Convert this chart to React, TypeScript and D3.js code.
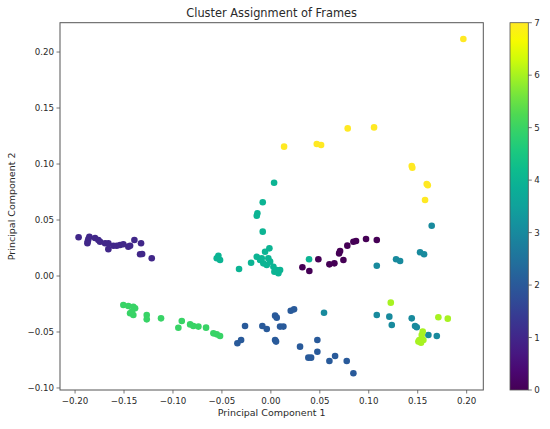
import React from "react";
import * as d3 from "d3";

// Cluster points: [PC1, PC2]
const cluster0: [number, number][] = [
  [0.0322, 0.0078], [0.0393, 0.0045], [0.0485, 0.0149], [0.0598, 0.0104], [0.0649, 0.0113],
  [0.0741, 0.0143], [0.0697, 0.0202], [0.0707, 0.0223], [0.0781, 0.0271], [0.0843, 0.0306],
  [0.087, 0.0313], [0.0972, 0.033], [0.1082, 0.0321],
];
const cluster1: [number, number][] = [
  [-0.1964, 0.0346], [-0.187, 0.031], [-0.1854, 0.0351], [-0.1864, 0.033], [-0.1874, 0.0292],
  [-0.1796, 0.034], [-0.1762, 0.0321], [-0.1745, 0.0306], [-0.1694, 0.0292], [-0.166, 0.024],
  [-0.166, 0.0292], [-0.1609, 0.027], [-0.1574, 0.027], [-0.154, 0.0277], [-0.1507, 0.0283],
  [-0.1456, 0.0262], [-0.1438, 0.027], [-0.1394, 0.0321], [-0.1326, 0.0292], [-0.1336, 0.0194],
  [-0.1315, 0.0196], [-0.1217, 0.0158],
];
const cluster2: [number, number][] = [
  [-0.0264, -0.0446], [-0.0342, -0.0601], [-0.0304, -0.0571], [-0.0087, -0.0446], [-0.0042, -0.0473],
  [0.0043, -0.0354], [0.006, -0.0372], [0.0094, -0.0452], [0.0128, -0.0452], [0.0043, -0.0571],
  [0.0053, -0.0586], [0.0203, -0.031], [0.0237, -0.0298], [0.0298, -0.0631], [0.0383, -0.0729],
  [0.0411, -0.0729], [0.0475, -0.0571], [0.0475, -0.0676], [0.0598, -0.0759], [0.0656, -0.0714],
  [0.0775, -0.0759], [0.0843, -0.0869],
];
const cluster3: [number, number][] = [
  [0.1643, 0.0449], [0.1524, 0.0212], [0.1565, 0.0194], [0.1279, 0.0149], [0.132, 0.0134],
  [0.1082, 0.0092], [0.0543, -0.0328], [0.1082, -0.0348], [0.121, -0.0363], [0.1235, -0.0438],
  [0.1439, -0.0378], [0.1473, -0.0446], [0.149, -0.0458], [0.1609, -0.0527], [0.1695, -0.0536],
];
const cluster4: [number, number][] = [
  [0.0033, 0.0833], [-0.0083, 0.0658], [-0.0138, 0.056], [-0.0144, 0.0538], [-0.0083, 0.0396],
  [-0.0536, 0.0181], [-0.0519, 0.0143], [-0.0553, 0.0158], [-0.0325, 0.0063], [-0.0202, 0.0119],
  [-0.0144, 0.0172], [-0.011, 0.0143], [-0.0059, 0.0217], [-0.0015, 0.0247], [-0.0077, 0.0113],
  [-0.0042, 0.0098], [-0.0008, 0.0128], [0.0026, 0.0083], [0.006, 0.0054], [0.0077, 0.0024],
  [0.0036, 0.0038], [0.0094, 0.0054], [-0.0093, 0.0158], [-0.0026, 0.0158], [0.039, 0.0149],
];
const cluster5: [number, number][] = [
  [-0.1507, -0.0259], [-0.1456, -0.0268], [-0.1405, -0.0274], [-0.1387, -0.0289], [-0.1438, -0.0333],
  [-0.1405, -0.0348], [-0.1421, -0.0319], [-0.1268, -0.0348], [-0.1268, -0.0387], [-0.1122, -0.0378],
  [-0.091, -0.0402], [-0.0945, -0.0462], [-0.0825, -0.0432], [-0.0792, -0.0446], [-0.074, -0.0452],
  [-0.0662, -0.0461], [-0.0587, -0.0512], [-0.0553, -0.0521], [-0.0519, -0.0536],
];
const cluster6: [number, number][] = [
  [0.1225, -0.0238], [0.1711, -0.0369], [0.1807, -0.0381], [0.1551, -0.0497], [0.1541, -0.0527],
  [0.1517, -0.0571], [0.1558, -0.0571], [0.1534, -0.0595], [0.1507, -0.0586],
];
const cluster7: [number, number][] = [
  [0.1966, 0.2116], [0.0135, 0.1155], [0.0469, 0.1179], [0.0513, 0.117], [0.0785, 0.1318],
  [0.1054, 0.1327], [0.1439, 0.0982], [0.1445, 0.0967], [0.1592, 0.0821], [0.1603, 0.081],
  [0.1575, 0.0679],
];
const clusters = [cluster0, cluster1, cluster2, cluster3, cluster4, cluster5, cluster6, cluster7];

const xTicks = [-0.2, -0.15, -0.1, -0.05, 0.0, 0.05, 0.1, 0.15, 0.2];
const yTicks = [-0.1, -0.05, 0.0, 0.05, 0.1, 0.15, 0.2];
const cbTicks = [0, 1, 2, 3, 4, 5, 6, 7];

const title = "Cluster Assignment of Frames";
const xLabel = "Principal Component 1";
const yLabel = "Principal Component 2";

const fmt = (v: number) => {
  const s = Math.abs(v).toFixed(2);
  return (v < -1e-9 ? "\u2212" : "") + s;
};

// viridis, slightly more saturated as in the reference screenshot
const vivid = (t: number) => {
  const c = d3.hsl(d3.interpolateViridis(t));
  c.s = Math.min(1, c.s * 1.3);
  return c.formatHex();
};

export default function App() {
  const W = 550, H = 429;
  const L = 60, R = 483.3, T = 22.7, B = 390;
  const x = d3.scaleLinear().domain([-0.2154, 0.217]).range([L, R]);
  const y = d3.scaleLinear().domain([-0.1018, 0.2262]).range([B, T]);
  const cbX0 = 510, cbX1 = 528.3;
  const cb = d3.scaleLinear().domain([0, 7]).range([B, T]);
  const color = (c: number) => vivid(c / 7);
  const stops = d3.range(0, 1.0001, 0.05);
  const font = "DejaVu Sans, sans-serif";
  const txt = "#2a2a2a";
  const axisCol = "#555";

  const pts: { px: number; py: number; c: number }[] = [];
  clusters.forEach((cl, c) => cl.forEach(([a, b]) => pts.push({ px: x(a), py: y(b), c })));

  return (
    <svg width={W} height={H} style={{ position: "absolute", left: 0, top: 0, background: "#fff" }}>
      <defs>
        <linearGradient id="vir" x1="0" y1="1" x2="0" y2="0">
          {stops.map((s) => (
            <stop key={s} offset={`${s * 100}%`} stopColor={vivid(s)} />
          ))}
        </linearGradient>
      </defs>
      <text x={(L + R) / 2} y={17} textAnchor="middle" fontFamily={font} fontSize={11.4} fill={txt}>
        {title}
      </text>
      {pts.map((p, i) => (
        <circle key={i} cx={p.px} cy={p.py} r={3.3} fill={color(p.c)} />
      ))}
      <rect x={L} y={T} width={R - L} height={B - T} fill="none" stroke={axisCol} strokeWidth={1} />
      {xTicks.map((t) => (
        <g key={t}>
          <line x1={x(t)} x2={x(t)} y1={B} y2={B + 3.5} stroke={axisCol} strokeWidth={0.8} />
          <text x={x(t)} y={B + 14} textAnchor="middle" fontFamily={font} fontSize={8.7} fill={txt}>
            {fmt(t)}
          </text>
        </g>
      ))}
      {yTicks.map((t) => (
        <g key={t}>
          <line x1={L - 3.5} x2={L} y1={y(t)} y2={y(t)} stroke={axisCol} strokeWidth={0.8} />
          <text x={L - 6} y={y(t) + 3} textAnchor="end" fontFamily={font} fontSize={8.7} fill={txt}>
            {fmt(t)}
          </text>
        </g>
      ))}
      <text x={(L + R) / 2} y={416} textAnchor="middle" fontFamily={font} fontSize={9.5} fill={txt}>
        {xLabel}
      </text>
      <text
        transform={`translate(15,${(T + B) / 2}) rotate(-90)`}
        textAnchor="middle"
        fontFamily={font}
        fontSize={9.5}
        fill={txt}
      >
        {yLabel}
      </text>
      <rect x={cbX0} y={T} width={cbX1 - cbX0} height={B - T} fill="url(#vir)" stroke={axisCol} strokeWidth={0.8} />
      {cbTicks.map((t) => (
        <g key={t}>
          <line x1={cbX1} x2={cbX1 + 3.5} y1={cb(t)} y2={cb(t)} stroke={axisCol} strokeWidth={0.8} />
          <text x={cbX1 + 6} y={cb(t) + 3} fontFamily={font} fontSize={8.7} fill={txt}>
            {t}
          </text>
        </g>
      ))}
    </svg>
  );
}
